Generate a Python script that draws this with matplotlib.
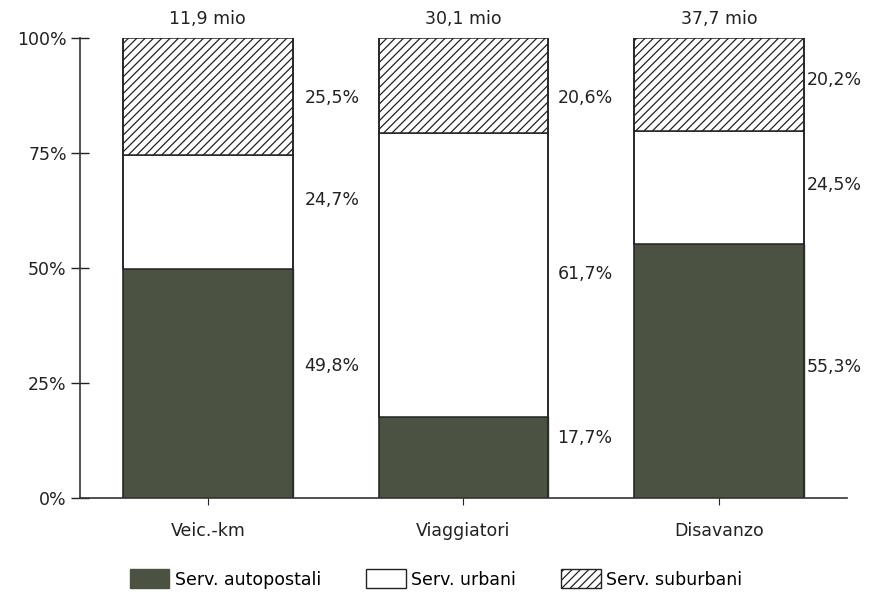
import matplotlib

matplotlib.use("Agg")
import matplotlib.pyplot as plt
import numpy as np
from matplotlib.patches import Patch

plt.rcParams["font.family"] = ["DejaVu Sans"]
plt.rcParams["hatch.linewidth"] = 0.9
plt.rcParams["hatch.color"] = "#2a2e24"

categories = ["Veic.-km", "Viaggiatori", "Disavanzo"]
totals = ["11,9 mio", "30,1 mio", "37,7 mio"]
series_names = ["Serv. autopostali", "Serv. urbani", "Serv. suburbani"]
autopostali = [49.8, 17.7, 55.3]
urbani = [24.7, 61.7, 24.5]
suburbani = [25.5, 20.6, 20.2]
label_texts = [
    ["49,8%", "24,7%", "25,5%"],
    ["17,7%", "61,7%", "20,6%"],
    ["55,3%", "24,5%", "20,2%"],
]
ytick_vals = [0, 25, 50, 75, 100]
ytick_labels = ["0%", "25%", "50%", "75%", "100%"]

# where the percentage labels sit (in % units) and their gap from the bar (pt)
label_y = [[28.8, 64.7, 86.9], [13.1, 48.8, 86.9], [28.5, 68.0, 90.8]]
label_gap = [8.5, 6.5, 2.0]

dark = "#4c5242"
ink = "#222222"
fs = 12.5

fig = plt.figure(figsize=(8.72, 6.0), dpi=100)
ax = fig.add_axes([0.0917, 0.17, 0.8796, 0.7667])

x = np.arange(len(categories))
w = 0.664
bottom2 = np.array(autopostali)
bottom3 = bottom2 + np.array(urbani)
ax.bar(x, autopostali, w, color=dark, edgecolor=dark, linewidth=1.0)
ax.bar(x, urbani, w, bottom=bottom2, color="white", edgecolor=ink, linewidth=1.1)
ax.bar(x, suburbani, w, bottom=bottom3, color="white", edgecolor=ink,
       linewidth=1.1, hatch="////")
# outline the sides of each full bar
for xi in x:
    ax.plot([xi - w / 2, xi - w / 2], [0, 100], color=ink, lw=1.1)
    ax.plot([xi + w / 2, xi + w / 2], [0, 100], color=ink, lw=1.1)

for i in range(len(categories)):
    ax.annotate(totals[i], (x[i], 100), xytext=(0, 7), textcoords="offset points",
                ha="center", va="bottom", fontsize=fs, color=ink)
    for j in range(3):
        ax.annotate(label_texts[i][j], (x[i] + w / 2, label_y[i][j]),
                    xytext=(label_gap[i], 0), textcoords="offset points",
                    ha="left", va="center", fontsize=fs, color=ink)

ax.set_xlim(-0.5, 2.5)
ax.set_ylim(0, 100)
ax.set_yticks(ytick_vals)
ax.set_yticklabels(ytick_labels)
ax.set_xticks(x)
ax.set_xticklabels(categories)
ax.tick_params(axis="y", direction="inout", length=13, width=1.0, pad=3,
               labelsize=fs, colors=ink)
ax.tick_params(axis="x", direction="out", length=5, width=0.8, pad=12,
               labelsize=fs, colors=ink)
for s in ["top", "right"]:
    ax.spines[s].set_visible(False)
for s in ["left", "bottom"]:
    ax.spines[s].set_linewidth(1.2)
    ax.spines[s].set_color("#333333")

handles = [
    Patch(facecolor=dark, edgecolor=dark),
    Patch(facecolor="white", edgecolor=ink, linewidth=1.0),
    Patch(facecolor="white", edgecolor=ink, linewidth=1.0, hatch="////"),
]
fig.legend(handles, series_names, loc="center", bbox_to_anchor=(0.5, 0.035),
           ncol=3, frameon=False, fontsize=fs, handlelength=2.3,
           handleheight=1.3, handletextpad=0.3, columnspacing=2.6)

fig.savefig("out.png", dpi=100)
